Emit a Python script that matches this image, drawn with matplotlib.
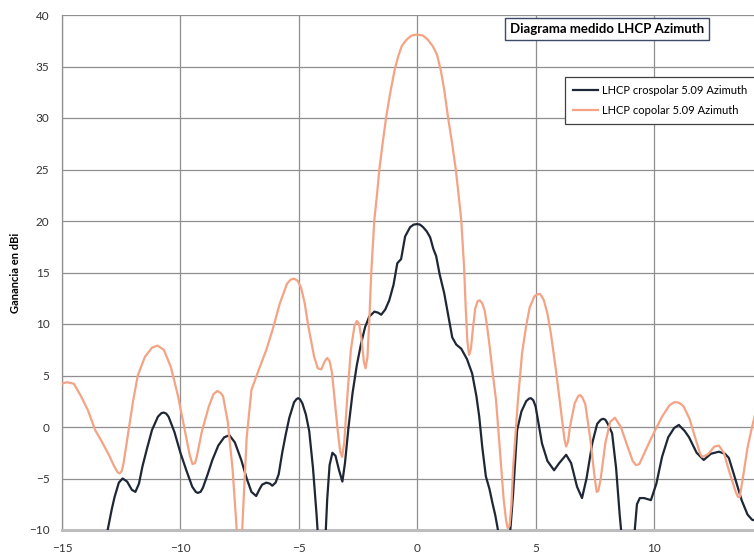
import matplotlib
matplotlib.use("Agg")
import matplotlib.pyplot as plt

# ---- data ----
co_x = [-15.0, -14.8, -14.5, -14.2, -13.9, -13.6, -13.3, -13.0, -12.8, -12.65, -12.57, -12.48, -12.4, -12.2,
        -12.0, -11.8, -11.5, -11.2, -10.97, -10.7, -10.4, -10.1, -9.8, -9.6, -9.49, -9.38, -9.3, -9.1, -8.8,
        -8.6, -8.44, -8.3, -8.2, -8.0, -7.8, -7.65, -7.55, -7.45, -7.35, -7.2, -7.0, -6.7, -6.37, -6.1, -5.8,
        -5.5, -5.35, -5.2, -5.05, -4.9, -4.75, -4.6, -4.35, -4.2, -4.05, -3.9, -3.8, -3.7, -3.6, -3.5,
        -3.35, -3.25, -3.17, -3.08, -2.95, -2.8, -2.65, -2.55, -2.45, -2.35, -2.25, -2.18, -2.1, -2.02,
        -1.94, -1.81, -1.7, -1.6, -1.45, -1.31, -1.15, -0.95, -0.8, -0.65, -0.45, -0.25, 0.0, 0.25, 0.45,
        0.65, 0.83, 1.0, 1.15, 1.3, 1.47, 1.63, 1.75, 1.86, 1.93, 1.98, 2.05, 2.12, 2.19, 2.27, 2.35, 2.45,
        2.55, 2.64, 2.75, 2.85, 2.95, 3.05, 3.2, 3.33, 3.5, 3.65, 3.75, 3.82, 3.9, 3.98, 4.05, 4.25,
        4.43, 4.6, 4.75, 4.95, 5.1, 5.2, 5.35, 5.5, 5.65, 5.86, 6.1, 6.22, 6.29, 6.37, 6.45, 6.65, 6.8,
        6.88, 6.97, 7.1, 7.3, 7.5, 7.58, 7.65, 7.75, 7.95, 8.15, 8.35, 8.6, 8.9, 9.1, 9.24, 9.38, 9.5,
        9.9, 10.34, 10.65, 10.85, 10.97, 11.1, 11.25, 11.5, 11.8, 11.95, 12.03, 12.15, 12.3, 12.55, 12.74,
        12.95, 13.2, 13.45, 13.55, 13.62, 13.75, 13.95, 14.14, 14.3]
co_y = [4.2, 4.35, 4.2, 3.0, 1.6, -0.3, -1.5, -2.8, -3.8, -4.4, -4.5, -4.3, -3.5, -0.5,
        2.5, 5.0, 6.8, 7.7, 7.9, 7.5, 5.8, 3.0, -0.5, -2.8, -3.6, -3.5, -2.8, -0.5, 2.0,
        3.2, 3.5, 3.3, 3.0, 0.5, -4.0, -9.0, -13.0, -13.0, -8.0, -1.0, 3.6, 5.5, 7.5, 9.5, 12.0,
        13.9, 14.3, 14.4, 14.2, 13.5, 12.0, 9.8, 6.8, 5.7, 5.6, 6.4, 6.7, 6.4, 5.3, 3.0,
        -0.5, -2.4, -2.9, -1.5, 3.0, 7.5, 9.8, 10.3, 10.0, 8.5, 6.3, 5.7, 6.8, 10.5,
        15.0, 20.1, 22.5, 25.0, 27.7, 30.1, 32.3, 34.7, 36.0, 37.0, 37.6, 38.0, 38.1, 38.0, 37.6,
        37.0, 36.2, 34.6, 32.6, 30.1, 27.6, 25.0, 22.5, 20.1, 17.5, 15.5, 11.5, 8.3, 7.0, 7.6, 9.5, 11.5,
        12.2, 12.3, 12.0, 11.3, 9.8, 8.0, 5.0, 2.6, -2.5, -7.0, -9.0, -9.8, -9.6, -7.5, -4.0, 2.5,
        7.2, 9.8, 11.6, 12.7, 12.9, 12.9, 12.3, 11.0, 9.0, 5.5, 1.0, -1.2, -1.9, -1.4, 0.0, 2.3, 3.0,
        3.1, 2.9, 2.2, -1.0, -5.0, -6.3, -6.2, -5.0, -1.5, 0.5, 0.9, 0.0, -2.0, -3.3, -3.7, -3.6, -3.0,
        -1.0, 1.0, 2.1, 2.4, 2.4, 2.3, 2.0, 0.8, -1.5, -2.6, -2.9, -2.8, -2.6, -1.9, -1.8,
        -2.5, -4.5, -6.3, -6.8, -6.8, -5.0, -2.0, 0.0, 1.5]

cx_x = [-13.2, -13.07, -12.9, -12.78, -12.6, -12.44, -12.25, -12.05, -11.9, -11.75, -11.6, -11.4, -11.2,
        -10.95, -10.8, -10.7, -10.6, -10.5, -10.25, -10.0, -9.75, -9.5, -9.35, -9.27, -9.15, -9.05, -8.85,
        -8.65, -8.4, -8.15, -7.93, -7.7, -7.43, -7.2, -7.0, -6.8, -6.65, -6.55, -6.37, -6.22, -6.12, -5.98,
        -5.85, -5.7, -5.55, -5.4, -5.2, -5.1, -5.03, -4.95, -4.85, -4.7, -4.56, -4.4, -4.25, -4.15, -3.9,
        -3.8, -3.7, -3.58, -3.45, -3.3, -3.16, -3.05, -2.9, -2.73, -2.55, -2.37, -2.2, -2.03, -1.81, -1.65,
        -1.52, -1.35, -1.18, -1.0, -0.84, -0.68, -0.51, -0.3, -0.15, 0.0, 0.12, 0.25, 0.4, 0.55, 0.68, 0.8,
        0.95, 1.14, 1.3, 1.48, 1.65, 1.86, 2.1, 2.32, 2.5, 2.62, 2.75, 2.9, 3.05, 3.18, 3.3, 3.45, 3.55,
        3.85, 3.95, 4.05, 4.22, 4.4, 4.6, 4.72, 4.8, 4.9, 5.0, 5.27, 5.5, 5.78, 6.0, 6.29, 6.5, 6.75,
        6.96, 7.15, 7.4, 7.6, 7.75, 7.85, 7.95, 8.05, 8.23, 8.4, 8.55, 8.65, 9.15, 9.28, 9.4, 9.58, 9.87,
        10.1, 10.34, 10.6, 10.85, 11.05, 11.3, 11.48, 11.8, 12.1, 12.4, 12.74, 13.0, 13.16, 13.4, 13.7,
        13.95, 14.14, 14.3]
cx_y = [-11.5, -10.0, -8.0, -6.8, -5.4, -5.0, -5.3, -6.1, -6.3, -5.5, -3.8, -2.0, -0.3,
        1.0, 1.35, 1.4, 1.3, 1.0, -0.5, -2.5, -4.2, -5.8, -6.3, -6.4, -6.3, -5.9, -4.6,
        -3.2, -1.8, -1.0, -0.8, -1.5, -3.2, -5.0, -6.3, -6.7, -6.0, -5.6, -5.4, -5.5, -5.7, -5.4,
        -4.6, -2.5, -0.7, 0.9, 2.4, 2.7, 2.8, 2.7, 2.3, 1.2, -0.4, -4.0, -8.5, -12.0, -12.0,
        -7.0, -3.7, -2.5, -2.8, -4.2, -5.3, -3.5, 0.0, 3.3, 6.0, 8.1, 9.7, 10.7, 11.2, 11.1,
        10.9, 11.4, 12.3, 13.8, 15.9, 16.3, 18.5, 19.4, 19.65, 19.7, 19.65, 19.4, 19.0, 18.4, 17.3, 16.6,
        14.8, 13.0, 11.0, 8.7, 8.0, 7.6, 6.6, 5.2, 3.0, 1.0, -2.0, -4.8, -6.0, -7.4, -8.6, -10.5, -12.0,
        -12.0, -9.5, -6.5, -0.3, 1.5, 2.5, 2.75, 2.8, 2.6, 2.0, -1.6, -3.3, -4.2, -3.5, -2.7, -3.5, -5.8,
        -6.9, -5.0, -1.5, 0.3, 0.7, 0.8, 0.7, 0.3, -0.6, -4.0, -8.5, -11.0, -11.0, -7.5, -6.9, -6.9, -7.1,
        -5.5, -2.9, -1.0, -0.1, 0.2, -0.4, -1.0, -2.5, -3.2, -2.6, -2.4, -2.6, -3.0, -4.8, -7.1,
        -8.5, -9.0, -9.1]

x_ticks = [-15, -10, -5, 0, 5, 10]
y_ticks = [-10, -5, 0, 5, 10, 15, 20, 25, 30, 35, 40]

# ---- figure ----
W, H = 754, 559
fig = plt.figure(figsize=(W / 100, H / 100), dpi=100)
ax = fig.add_axes([62 / W, 29 / H, 710.4 / W, 515 / H])

black = "#1e2735"
orange = "#f4a384"
ax.plot(cx_x, cx_y, color=black, lw=1.6, label="LHCP crospolar 5.09 Azimuth",
        solid_joinstyle="round", zorder=3)
ax.plot(co_x, co_y, color=orange, lw=1.6, label="LHCP copolar 5.09 Azimuth",
        solid_joinstyle="round", zorder=3)

ax.set_xlim(-15, 15)
ax.set_ylim(-10, 40)
ax.set_xticks(x_ticks)
ax.set_yticks(y_ticks)
ax.grid(True, color="#8f8f8f", lw=0.9)
ax.set_axisbelow(True)
for s in ["top", "right"]:
    ax.spines[s].set_visible(False)
ax.spines["left"].set_color("#8f8f8f")
ax.spines["left"].set_linewidth(0.9)
ax.spines["bottom"].set_color("#bdbdbd")
ax.spines["bottom"].set_linewidth(2.2)
ax.tick_params(length=0, labelsize=8.5, labelcolor="#333333", pad=9)
for lab in ax.get_xticklabels() + ax.get_yticklabels():
    lab.set_family("Lato")

ax.set_ylabel("Ganancia en dBi", fontsize=8, fontweight="bold", family="Lato", labelpad=6)

fig.text(607 / W, 1 - 29 / H, "Diagrama medido LHCP Azimuth", ha="center", va="center",
         fontsize=9.5, fontweight="bold", family="Lato", color="black",
         bbox=dict(boxstyle="square,pad=0.35", fc="white", ec="#3b4a66", lw=1.0))

leg = ax.legend(loc="upper left", bbox_to_anchor=(565 / W, 1 - 77 / H),
                bbox_transform=fig.transFigure, fancybox=False, framealpha=1,
                edgecolor="#404040", prop=dict(family="Lato", size=8),
                handlelength=2.3, handletextpad=0.3, labelspacing=0.85,
                borderpad=0.7, borderaxespad=0)
leg.get_frame().set_linewidth(0.9)

fig.savefig("out.png", dpi=100)
